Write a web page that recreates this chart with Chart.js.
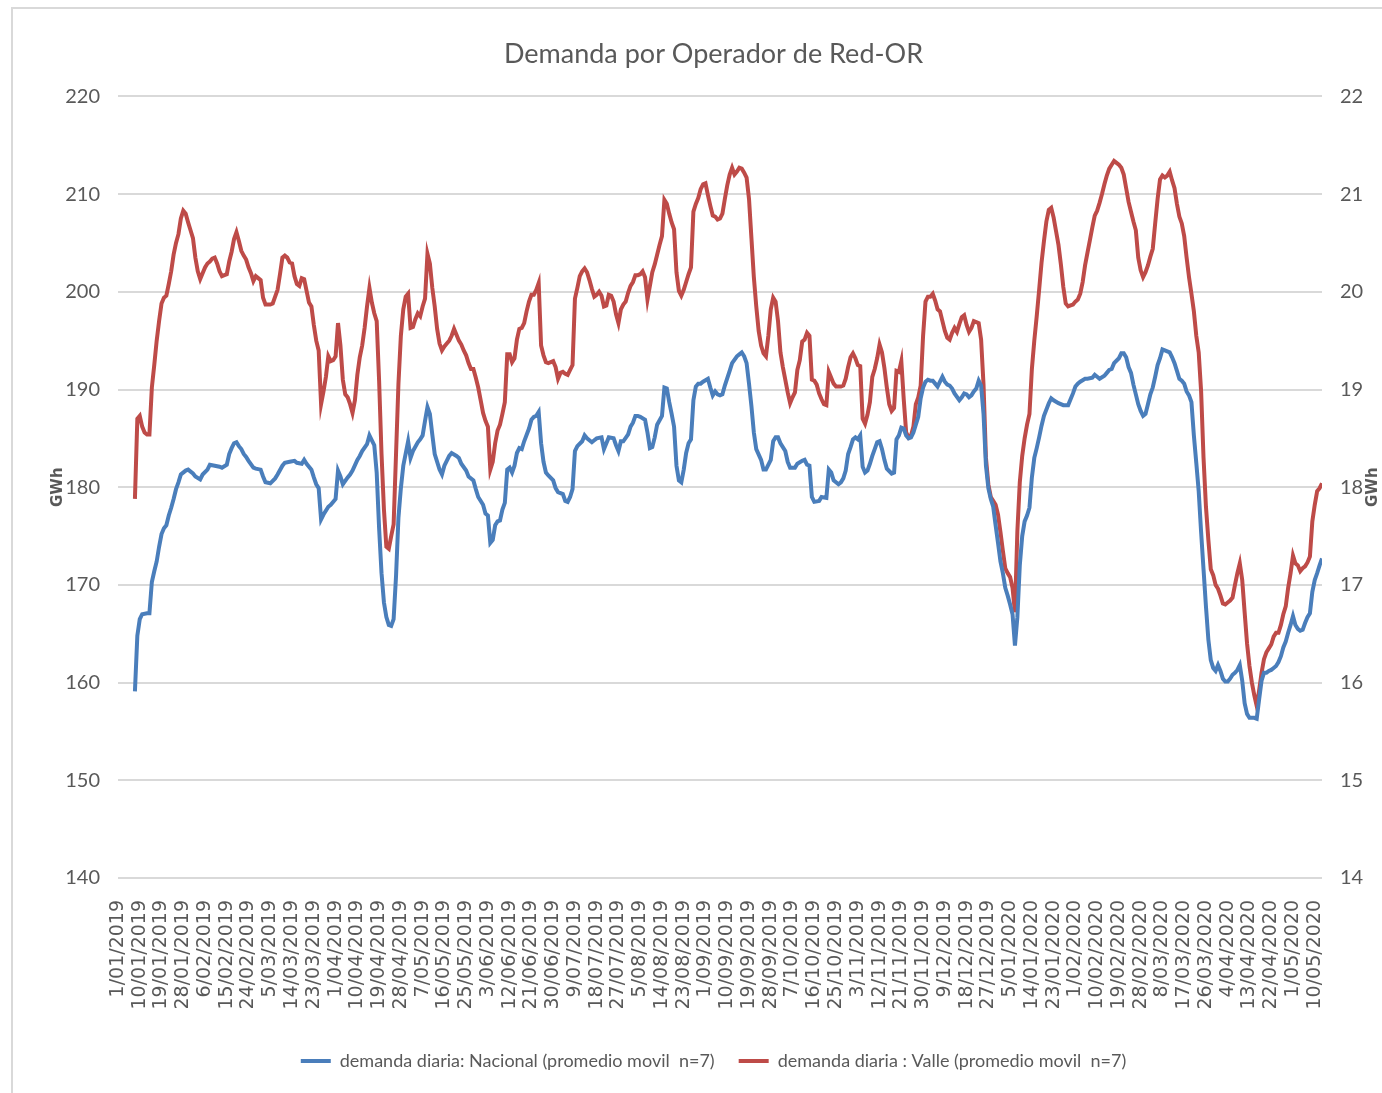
<!DOCTYPE html>
<html>
<head>
<meta charset="utf-8">
<script src="https://cdn.jsdelivr.net/npm/chart.js@4.4.1/dist/chart.umd.min.js"></script>
<style>
  html, body { margin: 0; padding: 0; background: #ffffff; }
  canvas { display: block; }
</style>
</head>
<body>
<canvas id="graficoDemanda" width="1382" height="1093"></canvas>
<script>
// Etiquetas del eje X (una cada 9 dias desde 1/01/2019)
const etiquetasFecha = [
    '1/01/2019', '10/01/2019', '19/01/2019', '28/01/2019', '6/02/2019', '15/02/2019', '24/02/2019',
    '5/03/2019', '14/03/2019', '23/03/2019', '1/04/2019', '10/04/2019', '19/04/2019', '28/04/2019',
    '7/05/2019', '16/05/2019', '25/05/2019', '3/06/2019', '12/06/2019', '21/06/2019', '30/06/2019',
    '9/07/2019', '18/07/2019', '27/07/2019', '5/08/2019', '14/08/2019', '23/08/2019', '1/09/2019',
    '10/09/2019', '19/09/2019', '28/09/2019', '7/10/2019', '16/10/2019', '25/10/2019', '3/11/2019',
    '12/11/2019', '21/11/2019', '30/11/2019', '9/12/2019', '18/12/2019', '27/12/2019', '5/01/2020',
    '14/01/2020', '23/01/2020', '1/02/2020', '10/02/2020', '19/02/2020', '28/02/2020', '8/03/2020',
    '17/03/2020', '26/03/2020', '4/04/2020', '13/04/2020', '22/04/2020', '1/05/2020', '10/05/2020'
];
const diasPorEtiqueta = 9;
const ultimoDia = 498; // dias desde 1/01/2019

// [dia, GWh] - demanda diaria Nacional (promedio movil n=7), eje izquierdo
const nacional = [
    [7,159.1],[8,164.8],[9,166.5],[10,167.0],[12,167.1],[13,167.1],[14,170.3],[15,171.4],[16,172.4],[17,173.9],
    [18,175.2],[19,175.8],[20,176.1],[21,177.1],[22,177.9],[23,178.8],[24,179.8],[25,180.5],[26,181.3],[28,181.7],
    [29,181.8],[31,181.4],[32,181.1],[34,180.8],[35,181.3],[37,181.8],[38,182.3],[40,182.2],[42,182.1],[43,182.0],
    [45,182.3],[46,183.4],[47,184.0],[48,184.5],[49,184.6],[50,184.2],[51,183.9],[52,183.4],[53,183.1],[54,182.7],
    [56,182.0],[57,181.9],[59,181.8],[60,181.1],[61,180.5],[63,180.4],[65,180.9],[66,181.3],[68,182.2],[69,182.5],
    [71,182.6],[73,182.7],[74,182.5],[76,182.4],[77,182.8],[78,182.4],[80,181.8],[81,181.0],[82,180.3],[83,179.9],
    [84,176.7],[85,177.2],[87,178.0],[88,178.2],[90,178.8],[91,181.7],[92,181.1],[93,180.3],[95,181.0],[96,181.3],
    [97,181.7],[99,182.8],[100,183.2],[101,183.7],[103,184.4],[104,185.3],[105,184.8],[106,184.3],[107,181.5],[108,175.8],
    [109,171.2],[110,168.2],[111,166.7],[112,165.9],[113,165.8],[114,166.5],[115,170.9],[116,176.9],[117,179.9],[118,182.2],
    [120,184.7],[121,183.0],[122,183.7],[124,184.6],[125,184.9],[126,185.3],[127,186.8],[128,188.2],[129,187.5],[130,185.4],
    [131,183.4],[133,181.8],[134,181.3],[135,182.2],[137,183.2],[138,183.5],[140,183.2],[141,183.0],[142,182.4],[144,181.7],
    [145,181.1],[147,180.7],[148,179.8],[149,179.0],[151,178.2],[152,177.3],[153,177.1],[154,174.3],[155,174.6],[156,176.1],
    [157,176.5],[158,176.6],[159,177.7],[160,178.4],[161,181.8],[162,182.0],[163,181.5],[164,182.2],[165,183.5],[166,184.0],
    [167,183.9],[168,184.7],[170,186.0],[171,186.9],[172,187.2],[173,187.3],[174,187.7],[175,184.5],[176,182.6],[177,181.5],
    [178,181.2],[180,180.7],[181,179.9],[182,179.5],[184,179.3],[185,178.6],[186,178.5],[187,179.0],[188,179.8],[189,183.7],
    [190,184.2],[192,184.7],[193,185.3],[194,185.0],[196,184.6],[197,184.8],[198,185.0],[200,185.1],[201,183.9],[202,184.5],
    [203,185.1],[205,185.0],[206,184.3],[207,183.7],[208,184.7],[209,184.7],[211,185.4],[212,186.2],[213,186.6],[214,187.3],
    [215,187.3],[216,187.2],[218,186.9],[219,185.6],[220,184.0],[221,184.1],[222,185.1],[223,186.4],[225,187.3],[226,190.2],
    [227,190.1],[228,188.7],[229,187.5],[230,186.2],[231,182.2],[232,180.7],[233,180.5],[234,181.8],[235,183.5],[236,184.5],
    [237,184.9],[238,188.9],[239,190.3],[240,190.6],[241,190.6],[242,190.8],[244,191.1],[245,190.2],[246,189.4],[247,189.8],
    [248,189.5],[249,189.4],[250,189.5],[251,190.4],[253,191.9],[254,192.7],[256,193.4],[257,193.6],[258,193.8],[259,193.4],
    [260,192.7],[261,190.6],[262,188.3],[263,185.6],[264,183.9],[266,182.8],[267,181.8],[268,181.8],[270,182.8],[271,184.7],
    [272,185.1],[273,185.1],[274,184.5],[276,183.7],[277,182.6],[278,182.0],[280,182.0],[281,182.4],[283,182.7],[284,182.8],
    [285,182.3],[286,182.2],[287,179.0],[288,178.5],[290,178.6],[291,179.0],[293,178.9],[294,181.8],[295,181.5],[296,180.7],
    [298,180.3],[299,180.5],[300,180.9],[301,181.7],[302,183.4],[303,184.1],[304,184.9],[305,185.1],[306,184.9],[307,185.3],
    [308,182.1],[309,181.5],[310,181.7],[311,182.4],[312,183.2],[313,183.9],[314,184.6],[315,184.7],[316,183.9],[317,182.8],
    [318,181.9],[320,181.4],[321,181.5],[322,184.9],[323,185.3],[324,186.1],[325,186.0],[326,185.3],[327,185.0],[328,185.1],
    [329,185.6],[330,186.4],[331,187.2],[332,189.1],[333,190.2],[334,190.8],[335,191.0],[336,190.9],[337,190.9],[338,190.6],
    [339,190.3],[340,190.8],[341,191.3],[342,190.8],[343,190.5],[344,190.4],[345,190.1],[346,189.6],[348,188.9],[349,189.2],
    [350,189.6],[351,189.5],[352,189.2],[353,189.4],[354,189.8],[355,190.1],[356,190.9],[357,190.4],[358,187.5],[359,182.2],
    [360,179.9],[361,178.8],[362,178.0],[363,176.1],[364,174.3],[365,172.4],[366,171.2],[367,169.7],[368,168.9],[369,168.0],
    [370,167.0],[371,163.8],[372,166.7],[373,172.0],[374,175.0],[375,176.5],[376,177.1],[377,177.9],[378,181.0],[379,183.0],
    [380,184.0],[381,185.1],[382,186.3],[383,187.3],[385,188.6],[386,189.1],[387,188.9],[389,188.6],[391,188.4],[393,188.4],
    [394,189.0],[395,189.6],[396,190.3],[397,190.6],[398,190.8],[400,191.1],[401,191.1],[403,191.2],[404,191.5],[405,191.3],
    [406,191.1],[408,191.4],[409,191.7],[410,192.0],[411,192.1],[412,192.7],[414,193.2],[415,193.7],[416,193.7],[417,193.3],
    [418,192.3],[419,191.7],[420,190.5],[421,189.5],[422,188.5],[423,187.8],[424,187.3],[425,187.5],[426,188.5],[427,189.5],
    [428,190.2],[429,191.3],[430,192.5],[431,193.2],[432,194.1],[433,194.0],[434,193.9],[435,193.8],[436,193.3],[437,192.7],
    [438,191.9],[439,191.1],[440,190.9],[441,190.6],[442,189.8],[443,189.4],[444,188.7],[445,185.3],[446,182.5],[447,179.6],
    [448,175.4],[449,171.6],[450,167.8],[451,164.4],[452,162.3],[453,161.5],[454,161.2],[455,161.8],[456,161.2],[457,160.4],
    [458,160.1],[459,160.1],[460,160.4],[461,160.8],[462,161.0],[463,161.3],[464,161.8],[465,160.2],[466,157.9],[467,156.8],
    [468,156.4],[470,156.4],[471,156.3],[472,158.3],[473,160.2],[474,161.0],[475,161.0],[476,161.2],[477,161.3],[478,161.5],
    [479,161.7],[480,162.1],[481,162.7],[482,163.6],[483,164.2],[484,165.1],[485,165.9],[486,166.8],[487,165.9],[488,165.5],
    [489,165.3],[490,165.4],[491,166.1],[492,166.7],[493,167.1],[494,169.3],[495,170.5],[496,171.2],[497,172.0],[498,172.7]
];

// [dia, GWh] - demanda diaria Valle (promedio movil n=7), eje derecho
const valle = [
    [7,17.88],[8,18.70],[9,18.73],[10,18.62],[11,18.56],[12,18.54],[13,18.54],[14,19.02],[15,19.25],[16,19.50],
    [17,19.70],[18,19.88],[19,19.94],[20,19.96],[21,20.08],[22,20.21],[23,20.38],[24,20.50],[25,20.59],[26,20.75],
    [27,20.83],[28,20.80],[29,20.71],[30,20.63],[31,20.55],[32,20.35],[33,20.21],[34,20.13],[35,20.19],[36,20.25],
    [37,20.29],[38,20.31],[39,20.34],[40,20.35],[41,20.29],[42,20.21],[43,20.16],[44,20.17],[45,20.18],[46,20.31],
    [47,20.41],[48,20.54],[49,20.61],[50,20.52],[51,20.42],[52,20.37],[53,20.33],[54,20.25],[55,20.19],[56,20.11],
    [57,20.16],[58,20.14],[59,20.12],[60,19.94],[61,19.87],[62,19.87],[63,19.87],[64,19.88],[65,19.95],[66,20.02],
    [67,20.18],[68,20.35],[69,20.37],[70,20.35],[71,20.30],[72,20.29],[73,20.16],[74,20.08],[75,20.06],[76,20.14],
    [77,20.13],[78,20.01],[79,19.89],[80,19.85],[81,19.66],[82,19.50],[83,19.40],[84,18.85],[85,18.98],[86,19.13],
    [87,19.34],[88,19.29],[89,19.30],[90,19.34],[91,19.68],[92,19.45],[93,19.10],[94,18.95],[95,18.92],[96,18.85],
    [97,18.76],[98,18.89],[99,19.15],[100,19.33],[101,19.45],[102,19.63],[103,19.85],[104,20.04],[105,19.89],[106,19.78],
    [107,19.70],[108,19.09],[109,18.34],[110,17.77],[111,17.39],[112,17.37],[113,17.50],[114,17.62],[115,18.34],[116,19.06],
    [117,19.55],[118,19.82],[119,19.95],[120,19.98],[121,19.63],[122,19.64],[123,19.72],[124,19.78],[125,19.75],[126,19.85],
    [127,19.93],[128,20.39],[129,20.29],[130,20.04],[131,19.85],[132,19.62],[133,19.47],[134,19.40],[135,19.44],[136,19.47],
    [137,19.50],[138,19.55],[139,19.62],[140,19.56],[141,19.50],[142,19.46],[143,19.40],[144,19.35],[145,19.27],[146,19.21],
    [147,19.21],[148,19.12],[149,19.02],[150,18.89],[151,18.76],[152,18.68],[153,18.62],[154,18.18],[155,18.26],[156,18.45],
    [157,18.58],[158,18.64],[159,18.75],[160,18.87],[161,19.36],[162,19.36],[163,19.28],[164,19.32],[165,19.51],[166,19.62],
    [167,19.63],[168,19.68],[169,19.80],[170,19.90],[171,19.97],[172,19.97],[173,20.02],[174,20.09],[175,19.45],[176,19.35],
    [177,19.28],[178,19.27],[179,19.28],[180,19.29],[181,19.23],[182,19.11],[183,19.17],[184,19.18],[185,19.16],[186,19.15],
    [187,19.20],[188,19.25],[189,19.93],[190,20.04],[191,20.16],[192,20.21],[193,20.24],[194,20.20],[195,20.12],[196,20.03],
    [197,19.95],[198,19.97],[199,20.00],[200,19.96],[201,19.85],[202,19.86],[203,19.97],[204,19.96],[205,19.90],[206,19.77],
    [207,19.68],[208,19.82],[209,19.87],[210,19.90],[211,19.99],[212,20.06],[213,20.10],[214,20.17],[215,20.17],[216,20.18],
    [217,20.21],[218,20.15],[219,19.92],[220,20.06],[221,20.20],[222,20.28],[223,20.38],[224,20.48],[225,20.57],[226,20.94],
    [227,20.90],[228,20.80],[229,20.71],[230,20.64],[231,20.20],[232,20.01],[233,19.96],[234,20.02],[235,20.10],[236,20.18],
    [237,20.25],[238,20.82],[239,20.90],[240,20.96],[241,21.05],[242,21.10],[243,21.11],[244,20.99],[245,20.88],[246,20.78],
    [247,20.77],[248,20.74],[249,20.75],[250,20.80],[251,20.95],[252,21.09],[253,21.20],[254,21.27],[255,21.20],[256,21.23],
    [257,21.27],[258,21.26],[259,21.22],[260,21.17],[261,20.95],[262,20.55],[263,20.15],[264,19.85],[265,19.60],[266,19.45],
    [267,19.37],[268,19.34],[269,19.55],[270,19.82],[271,19.94],[272,19.90],[273,19.70],[274,19.38],[275,19.23],[276,19.10],
    [277,18.97],[278,18.86],[279,18.92],[280,18.97],[281,19.20],[282,19.30],[283,19.49],[284,19.51],[285,19.58],[286,19.55],
    [287,19.10],[288,19.09],[289,19.05],[290,18.96],[291,18.90],[292,18.85],[293,18.84],[294,19.18],[295,19.12],[296,19.06],
    [297,19.03],[298,19.03],[299,19.03],[300,19.04],[301,19.11],[302,19.23],[303,19.33],[304,19.37],[305,19.32],[306,19.25],
    [307,19.24],[308,18.70],[309,18.65],[310,18.74],[311,18.87],[312,19.13],[313,19.21],[314,19.32],[315,19.46],[316,19.38],
    [317,19.22],[318,19.02],[319,18.85],[320,18.78],[321,18.81],[322,19.19],[323,19.18],[324,19.29],[325,18.90],[326,18.56],
    [327,18.51],[328,18.53],[329,18.62],[330,18.85],[331,18.92],[332,19.04],[333,19.55],[334,19.90],[335,19.95],[336,19.95],
    [337,19.98],[338,19.91],[339,19.82],[340,19.80],[341,19.70],[342,19.60],[343,19.53],[344,19.51],[345,19.58],[346,19.63],
    [347,19.59],[348,19.67],[349,19.74],[350,19.76],[351,19.66],[352,19.59],[353,19.63],[354,19.70],[355,19.69],[356,19.68],
    [357,19.51],[358,19.05],[359,18.30],[360,18.03],[361,17.90],[362,17.86],[363,17.82],[364,17.72],[365,17.54],[366,17.35],
    [367,17.17],[368,17.12],[369,17.08],[370,16.97],[371,16.72],[372,17.55],[373,18.05],[374,18.32],[375,18.50],[376,18.64],
    [377,18.75],[378,19.21],[379,19.50],[380,19.75],[381,20.02],[382,20.30],[383,20.52],[384,20.72],[385,20.84],[386,20.86],
    [387,20.76],[388,20.62],[389,20.48],[390,20.28],[391,20.05],[392,19.88],[393,19.85],[394,19.86],[395,19.87],[396,19.90],
    [397,19.92],[398,19.98],[399,20.10],[400,20.27],[401,20.40],[402,20.53],[403,20.66],[404,20.78],[405,20.83],[406,20.91],
    [407,21.00],[408,21.10],[409,21.19],[410,21.26],[411,21.30],[412,21.34],[413,21.32],[414,21.30],[415,21.27],[416,21.20],
    [417,21.06],[418,20.92],[419,20.82],[420,20.72],[421,20.63],[422,20.35],[423,20.22],[424,20.15],[425,20.20],[426,20.27],
    [427,20.36],[428,20.44],[429,20.70],[430,20.95],[431,21.15],[432,21.19],[433,21.17],[434,21.19],[435,21.23],[436,21.14],
    [437,21.06],[438,20.90],[439,20.77],[440,20.70],[441,20.57],[442,20.35],[443,20.15],[444,19.98],[445,19.80],[446,19.55],
    [447,19.38],[448,18.98],[449,18.30],[450,17.80],[451,17.46],[452,17.16],[453,17.10],[454,17.00],[455,16.96],[456,16.89],
    [457,16.81],[458,16.80],[459,16.82],[460,16.84],[461,16.87],[462,17.00],[463,17.12],[464,17.22],[465,17.05],[466,16.72],
    [467,16.40],[468,16.17],[469,16.00],[470,15.87],[471,15.76],[472,15.92],[473,16.10],[474,16.24],[475,16.31],[476,16.35],
    [477,16.39],[478,16.47],[479,16.51],[480,16.51],[481,16.59],[482,16.70],[483,16.78],[484,16.97],[485,17.12],[486,17.30],
    [487,17.22],[488,17.20],[489,17.14],[490,17.17],[491,17.19],[492,17.23],[493,17.29],[494,17.65],[495,17.82],[496,17.96],
    [497,17.99],[498,18.04]
];

const colorNacional = '#4A7EBB';
const colorValle = '#BE4B48';
const grisTexto = '#595959';
const fuenteTexto = "Lato, 'Open Sans', sans-serif";

// Marco exterior y titulos "GWh" de ambos ejes
const decoracion = {
    id: 'decoracion',
    afterDraw(chart) {
        const ctx = chart.ctx;
        const area = chart.chartArea;
        const yMedio = (area.top + area.bottom) / 2;
        ctx.save();
        ctx.strokeStyle = '#d9d9d9';
        ctx.lineWidth = 2;
        ctx.strokeRect(12, 8, chart.width, chart.height);
        ctx.fillStyle = grisTexto;
        ctx.font = "bold 15px 'DejaVu Sans'";
        ctx.textAlign = 'center';
        ctx.textBaseline = 'middle';
        [58, 1373].forEach(x => {
            ctx.save();
            ctx.translate(x, yMedio);
            ctx.rotate(-Math.PI / 2);
            ctx.fillText('GWh', 0, 0);
            ctx.restore();
        });
        ctx.restore();
    }
};

const canvas = document.getElementById('graficoDemanda');
const ctx = canvas.getContext('2d');

new Chart(ctx, {
    type: 'line',
    data: {
        datasets: [{
            label: 'demanda diaria: Nacional (promedio movil  n=7)',
            data: nacional.map(p => ({ x: p[0], y: p[1] })),
            borderColor: colorNacional,
            backgroundColor: colorNacional,
            borderWidth: 4,
            pointRadius: 0,
            tension: 0,
            yAxisID: 'y'
        }, {
            label: 'demanda diaria : Valle (promedio movil  n=7)',
            data: valle.map(p => ({ x: p[0], y: p[1] })),
            borderColor: colorValle,
            backgroundColor: colorValle,
            borderWidth: 4,
            pointRadius: 0,
            tension: 0,
            yAxisID: 'y1'
        }]
    },
    options: {
        responsive: false,
        animation: false,
        events: [],
        layout: { padding: { left: 45, right: 0, top: 0, bottom: 13 } },
        plugins: {
            title: {
                display: true,
                text: 'Demanda por Operador de Red-OR',
                color: grisTexto,
                font: { family: fuenteTexto, size: 27, weight: 'normal' },
                padding: { top: 38, bottom: 26 }
            },
            legend: {
                display: true,
                position: 'bottom',
                labels: {
                    usePointStyle: true,
                    pointStyle: 'line',
                    pointStyleWidth: 30,
                    color: grisTexto,
                    font: { family: fuenteTexto, size: 18 },
                    padding: 24
                }
            },
            tooltip: { enabled: false }
        },
        scales: {
            x: {
                type: 'linear',
                min: 0,
                max: ultimoDia,
                afterBuildTicks: scale => {
                    scale.ticks = etiquetasFecha.map((_, i) => ({ value: i * diasPorEtiqueta }));
                },
                afterFit: scale => { scale.height = 150; },
                grid: { display: false },
                border: { display: false },
                ticks: {
                    autoSkip: false,
                    maxRotation: 90,
                    minRotation: 90,
                    color: grisTexto,
                    padding: 14,
                    font: { family: "'DejaVu Sans'", size: 19 },
                    callback: value => etiquetasFecha[Math.round(value / diasPorEtiqueta)]
                }
            },
            y: {
                position: 'left',
                min: 140,
                max: 220,
                afterFit: scale => { scale.width = 73; },
                grid: { color: '#d9d9d9', lineWidth: 2, drawTicks: false },
                border: { display: false },
                ticks: {
                    stepSize: 10,
                    color: grisTexto,
                    padding: 18,
                    font: { family: fuenteTexto, size: 20 }
                }
            },
            y1: {
                position: 'right',
                min: 14,
                max: 22,
                afterFit: scale => { scale.width = 60; },
                grid: { display: false, drawTicks: false },
                border: { display: false },
                ticks: {
                    stepSize: 1,
                    color: grisTexto,
                    padding: 18,
                    font: { family: fuenteTexto, size: 20 }
                }
            }
        }
    },
    plugins: [decoracion]
});
</script>
</body>
</html>
